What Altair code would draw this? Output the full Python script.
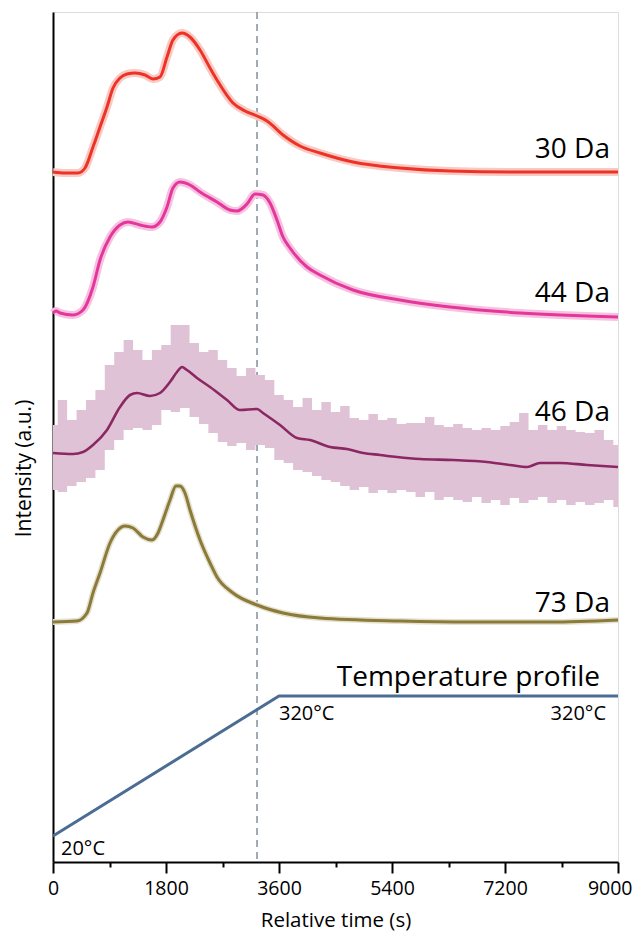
import altair as alt
import pandas as pd

FONT = "Open Sans"

# ---------------- data (time in s, intensity in a.u.) ----------------
t30 = [0, 191, 398, 510, 637, 749, 860, 956, 1067, 1179, 1306, 1465, 1593, 1704, 1816, 1911, 2055,
       2182, 2342, 2501, 2612, 2867, 3059, 3250, 3409, 3664, 3934, 4253, 4779, 5527, 6324, 7439, 9000]
v30 = [690, 689, 689, 694, 715, 735, 755, 774, 784, 788, 789, 787, 783, 785, 805, 822, 829,
       825, 812, 794, 782, 759, 751, 746, 741, 727, 716, 709, 700, 694, 691, 690, 690]

t44 = [0, 48, 112, 319, 478, 637, 749, 908, 1067, 1195, 1386, 1577, 1704, 1816, 1911, 2023, 2182, 2342,
       2612, 2819, 2931, 3090, 3218, 3345, 3457, 3568, 3664, 3775, 4046, 4253, 4779, 5527, 6324, 7439, 9000]
v44 = [549, 551, 549, 547, 552, 575, 602, 625, 637, 640, 637, 635, 640, 655, 674, 680, 677, 670,
       660, 652, 651, 658, 668, 667, 659, 642, 625, 614, 595, 587, 572, 562, 555, 549, 545]

t46 = [0, 319, 478, 637, 860, 1067, 1227, 1338, 1545, 1704, 1863, 1975, 2055, 2134, 2294, 2501, 2772, 2979,
       3250, 3345, 3616, 3887, 4094, 4412, 4683, 4938, 5209, 5479, 5846, 6372, 6913, 7280, 7551, 7758,
       8076, 8506, 9000]
v46 = [409, 408, 410, 417, 432, 455, 467, 469, 466, 469, 480, 490, 495, 492, 484, 475, 462, 452,
       453, 449, 437, 424, 422, 415, 413, 409, 407, 405, 403, 402, 400, 397, 395, 399,
       399, 397, 395]

# raw-signal envelope of the noisy 46 Da trace
t46_raw = [0, 150, 300, 450, 600, 750, 900, 1050, 1200, 1350, 1500, 1650, 1800, 1950, 2100, 2250, 2400,
           2550, 2700, 2850, 3000, 3150, 3300, 3450, 3600, 3750, 3900, 4050, 4200, 4350, 4500, 4650,
           4800, 4950, 5100, 5250, 5400, 5550, 5700, 5850, 6000, 6150, 6300, 6450, 6600, 6750, 6900,
           7050, 7200, 7350, 7500, 7650, 7800, 7950, 8100, 8250, 8400, 8550, 8700, 8850, 9000]
v46_hi = [437, 462, 442, 452, 462, 472, 497, 510, 522, 512,
          502, 512, 517, 537, 537, 519, 510, 512, 502, 494,
          486, 494, 487, 482, 467, 462, 455, 464, 452, 460,
          450, 456, 444, 442, 448, 442, 444, 438, 439, 439,
          445, 437, 435, 438, 434, 432, 434, 432, 436, 440,
          449, 432, 437, 432, 436, 432, 430, 429, 432, 422, 417]
v46_lo = [372, 370, 376, 380, 384, 392, 412, 422, 432, 434,
          432, 437, 452, 450, 454, 445, 438, 429, 420, 416,
          419, 412, 417, 414, 402, 399, 392, 390, 386, 382,
          380, 376, 372, 375, 369, 372, 369, 372, 370, 365,
          370, 362, 365, 362, 360, 365, 359, 362, 357, 364,
          359, 362, 365, 359, 362, 357, 360, 357, 359, 362, 355]

t73 = [0, 382, 542, 637, 749, 908, 1035, 1147, 1274, 1433, 1577, 1673, 1752, 1864, 1959, 2023, 2102, 2182,
       2342, 2501, 2612, 2867, 3250, 3664, 4253, 5527, 6642, 7917, 9000]
v73 = [240, 241, 249, 269, 289, 319, 332, 336, 334, 325, 322, 329, 342, 362, 376, 376, 369, 352,
       322, 299, 285, 269, 257, 249, 244, 241, 240, 240, 242]

temp_t = [0, 3600, 9000]
temp_c = [20, 320, 320]

marker_t = [3250]

x_ticks = [0, 900, 1800, 2700, 3600, 4500, 5400, 6300, 7200, 8100, 9000]

# ---------------- styles ----------------
series = [
    # name, t, v, line colour, band colour, band width, label dy
    ("30 Da", t30, v30, "#ee3226", "#f9c9c3", 8, -14),
    ("44 Da", t44, v44, "#e5369b", "#f6c2df", 8, -15),
    ("46 Da", t46, v46, "#8b2763", None, 0, -46),
    ("73 Da", t73, v73, "#8b7a38", "#e3e1cf", 6, -8),
]

x_scale = alt.Scale(domain=[0, 9000], nice=False, zero=False)
y_scale = alt.Scale(domain=[0, 850], nice=False, zero=False)
temp_scale = alt.Scale(domain=[-35.7, 1785.7], nice=False, zero=False)

x_axis = alt.Axis(
    values=x_ticks, format="d",
    labelExpr="datum.value % 1800 === 0 ? datum.label : ''",
    tickSize={"condition": {"test": "datum.value % 1800 !== 0", "value": 5}, "value": 11},
    labelAlign={"condition": {"test": "datum.value === 9000", "value": "right"}, "value": "center"},
    labelOffset={"condition": {"test": "datum.value === 9000", "value": 14}, "value": 0},
    tickColor="black", tickWidth=2, domainColor="black", domainWidth=2,
    labelFont=FONT, labelFontSize=19.5, labelColor="black", labelPadding=6,
    labelFlush=False, labelOverlap=False, grid=False,
    title="Relative time (s)", titleFont=FONT, titleFontSize=20.5, titleFontWeight="normal",
    titleColor="black", titlePadding=13,
)
y_axis = alt.Axis(
    ticks=False, labels=False, grid=False, domainColor="black", domainWidth=2,
    title="Intensity (a.u.)", titleFont=FONT, titleFontSize=21, titleFontWeight="normal",
    titleColor="black", titlePadding=19, titleY=456,
)

X = alt.X("t:Q", scale=x_scale, axis=x_axis)
Y = alt.Y("v:Q", scale=y_scale, axis=y_axis)

layers = []
# noisy band for 46 Da
band46 = pd.DataFrame({"t": t46_raw, "hi": v46_hi, "lo": v46_lo})
layers.append(
    alt.Chart(band46).mark_area(color="#dfc2d5", opacity=1, interpolate="step").encode(
        x=X, y=alt.Y("hi:Q", scale=y_scale, axis=y_axis), y2="lo:Q"
    )
)

labels = []
for name, t, v, col, bcol, bw, dy in series:
    d = pd.DataFrame({"t": t, "v": v})
    if bcol:
        layers.append(
            alt.Chart(d).mark_line(color=bcol, strokeWidth=bw, interpolate="monotone",
                                   strokeCap="butt", strokeJoin="round").encode(x=X, y=Y)
        )
    layers.append(
        alt.Chart(d).mark_line(color=col, strokeWidth=3 if name != "46 Da" else 2.6,
                               interpolate="monotone").encode(x=X, y=Y)
    )
    lab = pd.DataFrame({"t": [t[-1]], "v": [v[-1]], "label": [name]})
    labels.append(
        alt.Chart(lab).mark_text(align="right", baseline="alphabetic", dx=-8, dy=dy,
                                 font=FONT, fontSize=28, color="black").encode(
            x=X, y=Y, text="label:N")
    )

marker = alt.Chart(pd.DataFrame({"t": marker_t})).mark_rule(
    color="#8b95a1", strokeDash=[7, 5], strokeWidth=1.6).encode(x=X)

intensity = alt.layer(marker, *layers, *labels)

# temperature profile (own hidden scale)
temp_df = pd.DataFrame({"t": temp_t, "c": temp_c})
TY = alt.Y("c:Q", scale=temp_scale, axis=None)
temp_line = alt.Chart(temp_df).mark_line(color="#4b6c93", strokeWidth=3).encode(x=X, y=TY)

t_start = pd.DataFrame({"t": [temp_t[0]], "c": [temp_c[0]], "s": [f"{temp_c[0]}°C"]})
t_knee = pd.DataFrame({"t": [temp_t[1]], "c": [temp_c[1]], "s": [f"{temp_c[1]}°C"]})
t_end = pd.DataFrame({"t": [temp_t[2]], "c": [temp_c[2]], "s": [f"{temp_c[2]}°C"],
                      "title": ["Temperature profile"]})

txt = dict(font=FONT, color="black", baseline="alphabetic")
temp_labels = [
    alt.Chart(t_start).mark_text(align="left", dx=8, dy=19, fontSize=20, **txt).encode(x=X, y=TY, text="s:N"),
    alt.Chart(t_knee).mark_text(align="left", dx=0, dy=24, fontSize=20, **txt).encode(x=X, y=TY, text="s:N"),
    alt.Chart(t_end).mark_text(align="right", dx=-12, dy=24, fontSize=20, **txt).encode(x=X, y=TY, text="s:N"),
    alt.Chart(t_end).mark_text(align="right", dx=-18, dy=-10, fontSize=28, **txt).encode(x=X, y=TY, text="title:N"),
]
temperature = alt.layer(temp_line, *temp_labels)

chart = alt.layer(intensity, temperature).resolve_scale(y="independent").properties(
    width=565, height=850,
    autosize=alt.AutoSizeParams(type="none"),
    padding={"left": 45, "top": 4, "right": 15, "bottom": 70},
).configure_view(stroke=None).configure(background="white")

chart.save("out.html", embed_options={"renderer": "svg", "actions": False})
